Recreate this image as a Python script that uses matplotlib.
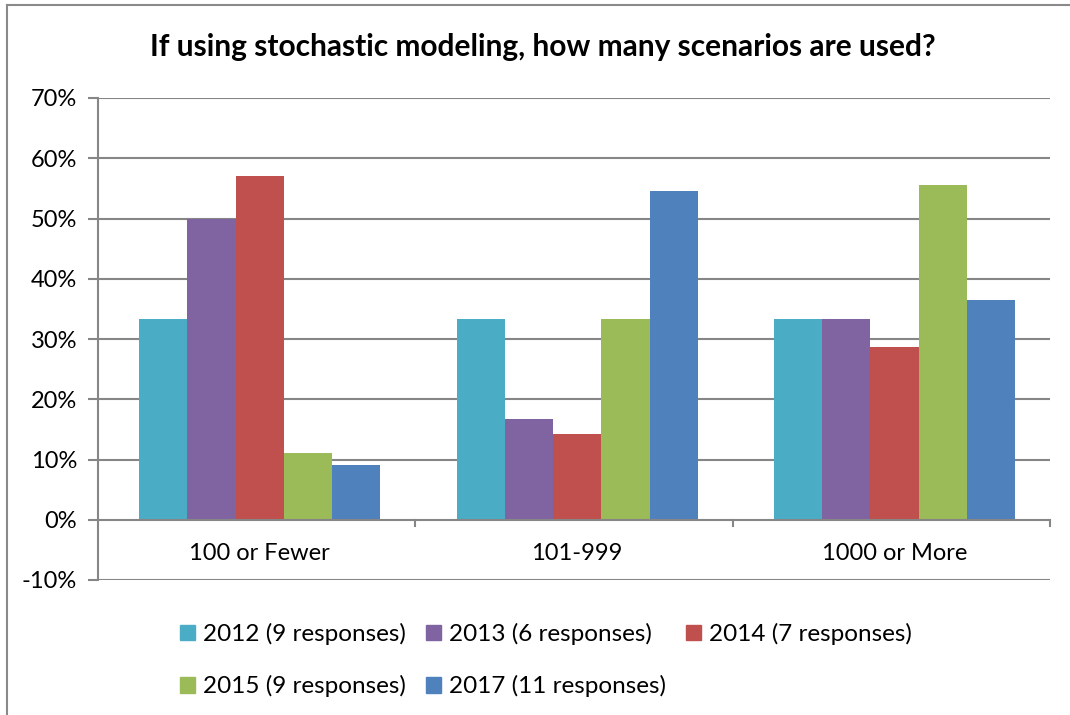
import matplotlib
matplotlib.use("Agg")
import matplotlib.pyplot as plt
from matplotlib.patches import Patch
from matplotlib.lines import Line2D
import numpy as np

categories = ["100 or Fewer", "101-999", "1000 or More"]
series_names = ["2012 (9 responses)", "2013 (6 responses)", "2014 (7 responses)",
                "2015 (9 responses)", "2017 (11 responses)"]
values_2012 = [33.3, 33.3, 33.3]
values_2013 = [50.0, 16.7, 33.3]
values_2014 = [57.1, 14.3, 28.6]
values_2015 = [11.1, 33.3, 55.6]
values_2017 = [9.1, 54.5, 36.4]
colors = ["#4BACC6", "#8064A2", "#C0504D", "#9BBB59", "#4F81BD"]
yticks = [-10, 0, 10, 20, 30, 40, 50, 60, 70]
title = "If using stochastic modeling, how many scenarios are used?"

plt.rcParams['font.family'] = ['Lato', 'DejaVu Sans']

fig = plt.figure(figsize=(10.7, 7.15), dpi=100)
ax = fig.add_axes([98/1070, 1 - 580/715, (1050-98)/1070, (580-98)/715])

series = [values_2012, values_2013, values_2014, values_2015, values_2017]
x = np.arange(len(categories))
bw = 0.152
for i, (vals, c, name) in enumerate(zip(series, colors, series_names)):
    ax.bar(x + (i - 2) * bw + 0.01, vals, width=bw, color=c, label=name, zorder=3)

grid_c = "#868686"
ax.set_xlim(-0.5, 2.5)
ax.set_ylim(-10, 70)
ax.set_yticks(yticks)
ax.set_yticklabels([f"{t}%" for t in yticks], fontsize=17)
ax.tick_params(axis='y', length=7, color=grid_c, width=1.5, pad=8)
ax.set_xticks([])
for t in yticks:
    if t != 0:
        ax.axhline(t, color=grid_c, lw=1.5, zorder=1)
ax.axhline(0, color=grid_c, lw=1.5, zorder=4)
# category boundary tick marks below the zero line
for b in [0.5, 1.5, 2.5]:
    ax.plot([b, b], [0, -1.1], color=grid_c, lw=1.5, zorder=4, clip_on=False)
for s in ['top', 'right', 'bottom']:
    ax.spines[s].set_visible(False)
ax.spines['left'].set_color(grid_c)
ax.spines['left'].set_linewidth(1.5)

for xi, cat in zip(x, categories):
    ax.text(xi + 0.01, -5.6, cat, ha='center', va='center', fontsize=17)

fig.text(0.507, 1 - 47/715, title, ha='center', va='center', fontsize=21.5, fontweight='bold')

handles = [Patch(color=c) for c in colors]
order = [0, 3, 1, 4, 2]
leg = fig.legend([handles[i] for i in order], [series_names[i] for i in order], ncol=3,
                 loc='upper left', bbox_to_anchor=(158/1070, 1 - 601/715),
                 frameon=False, fontsize=17.5, handlelength=0.62, handleheight=0.62,
                 handletextpad=0.35, columnspacing=0.8, labelspacing=1.25)

# outer chart border (top and left visible)
fig.add_artist(Line2D([7/1070, 1], [1 - 5/715, 1 - 5/715], transform=fig.transFigure, color="#8a8a8a", lw=1.5))
fig.add_artist(Line2D([7/1070, 7/1070], [0, 1 - 5/715], transform=fig.transFigure, color="#8a8a8a", lw=1.5))

fig.savefig("out.png", dpi=100)
